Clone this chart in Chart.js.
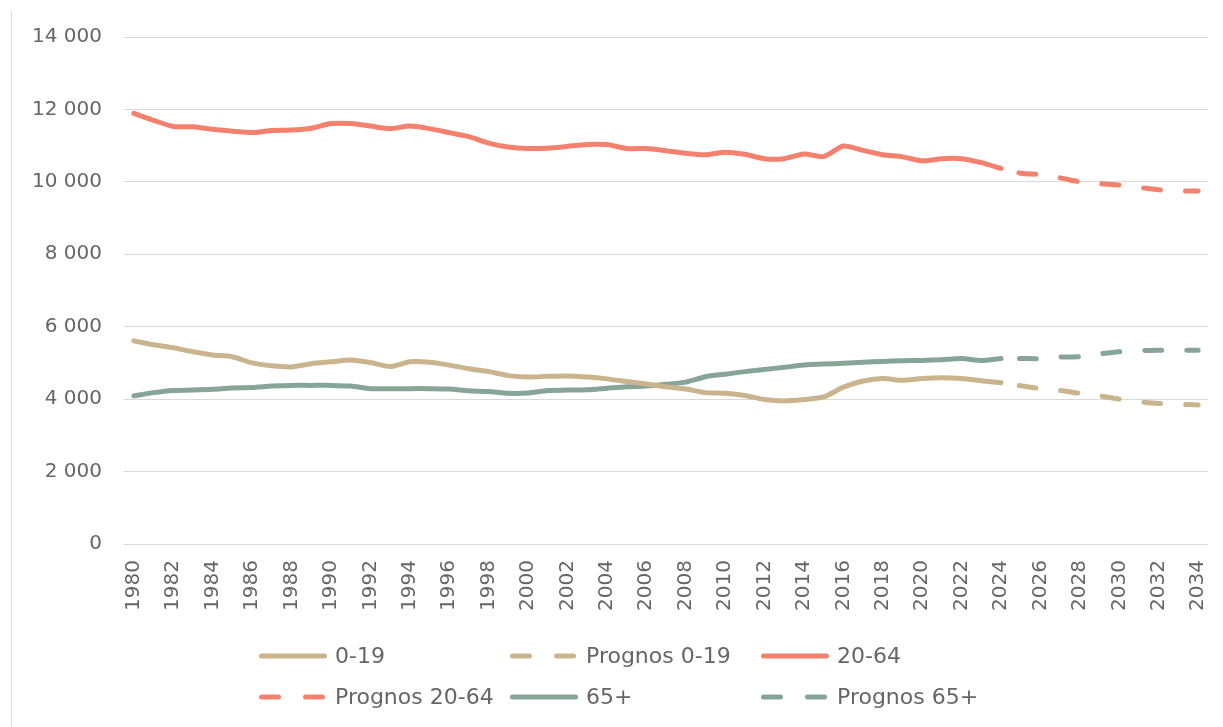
<!DOCTYPE html>
<html>
<head>
<meta charset="utf-8">
<script src="https://cdn.jsdelivr.net/npm/chart.js@4/dist/chart.umd.min.js"></script>
<style>
  html, body { margin: 0; padding: 0; background: #fff; }
  #wrap { width: 1223px; height: 727px; position: relative; }
</style>
</head>
<body>
<div id="wrap"><canvas id="chart"></canvas></div>
<script>
// years on the category axis
var years = [
  '1980','1981','1982','1983','1984','1985','1986','1987','1988','1989',
  '1990','1991','1992','1993','1994','1995','1996','1997','1998','1999',
  '2000','2001','2002','2003','2004','2005','2006','2007','2008','2009',
  '2010','2011','2012','2013','2014','2015','2016','2017','2018','2019',
  '2020','2021','2022','2023','2024','2025','2026','2027','2028','2029',
  '2030','2031','2032','2033','2034'
];

// outcome 1980-2024
var age0_19 = [
  5610,5500,5420,5310,5220,5170,5000,4920,4890,4980,
  5030,5080,5010,4900,5030,5020,4940,4840,4760,4650,
  4610,4630,4640,4610,4560,4490,4420,4340,4280,4180,
  4160,4100,3990,3950,3990,4060,4330,4500,4570,4520,
  4570,4590,4570,4510,4450
];
var age20_64 = [
  11890,11700,11530,11520,11450,11400,11360,11420,11430,11480,
  11610,11610,11540,11470,11540,11470,11360,11250,11070,10960,
  10920,10930,10980,11030,11030,10920,10920,10860,10790,10750,
  10820,10760,10640,10640,10770,10700,10990,10870,10750,10690,
  10580,10640,10640,10530,10370
];
var age65 = [
  4090,4180,4240,4250,4270,4310,4320,4360,4380,4380,
  4380,4360,4290,4290,4290,4290,4280,4230,4210,4160,
  4170,4240,4250,4260,4300,4340,4360,4410,4470,4620,
  4690,4760,4820,4880,4940,4970,4990,5020,5040,5060,
  5070,5090,5120,5070,5120
];

// forecast 2024-2034
var prog0_19  = [4450,4370,4290,4240,4160,4090,4000,3930,3880,3860,3840];
var prog20_64 = [10370,10240,10200,10110,10000,9950,9910,9850,9780,9750,9745];
var prog65    = [5120,5120,5120,5160,5170,5250,5310,5340,5350,5350,5350];

var yTicks = [0,2000,4000,6000,8000,10000,12000,14000];

var TAN = '#c9b48d', RED = '#f4816e', GREEN = '#87a597';
var FONT = 'DejaVu Sans';
var TEXT = '#666666';

function history(arr) {
  return arr.concat(new Array(years.length - arr.length).fill(null));
}
function forecast(arr) {
  return new Array(years.length - arr.length).fill(null).concat(arr);
}
function series(label, data, color, dashed) {
  return {
    label: label,
    data: data,
    borderColor: color,
    backgroundColor: color,
    borderWidth: 5,
    borderCapStyle: 'round',
    borderJoinStyle: 'round',
    borderDash: dashed ? [17, 25] : [],
    borderDashOffset: dashed ? 23.8 : 0,
    pointRadius: 0,
    pointHoverRadius: 0,
    tension: 0.25,
    fill: false,
    spanGaps: false
  };
}

function fmt(v) {
  return String(v).replace(/\B(?=(\d{3})+(?!\d))/g, ' ');
}

// excel style legend: 3 equal columns, 2 rows
var gridLegend = {
  id: 'gridLegend',
  beforeDraw: function(chart) {
    var ctx = chart.ctx;
    ctx.save();
    ctx.strokeStyle = '#d9d9d9';
    ctx.lineWidth = 1;
    ctx.beginPath();
    ctx.moveTo(11.5, 11);
    ctx.lineTo(11.5, chart.height);
    ctx.stroke();
    ctx.restore();
  },
  afterDraw: function(chart) {
    var ctx = chart.ctx;
    var area = chart.chartArea;
    var x0 = area.left + 135, colW = 251;
    var rowY = [area.bottom + 112, area.bottom + 153];
    ctx.save();
    ctx.font = '22px "' + FONT + '"';
    ctx.textBaseline = 'middle';
    ctx.fillStyle = TEXT;
    chart.data.datasets.forEach(function(ds, i) {
      var x = x0 + (i % 3) * colW;
      var y = rowY[Math.floor(i / 3)];
      ctx.strokeStyle = ds.borderColor;
      ctx.lineWidth = 5;
      ctx.lineCap = 'round';
      ctx.setLineDash(ds.borderDash.length ? [17, 27] : []);
      ctx.beginPath();
      ctx.moveTo(x + 2.5, y);
      ctx.lineTo(x + 65.5, y);
      ctx.stroke();
      ctx.setLineDash([]);
      ctx.fillText(ds.label, x + 76, y + 1);
    });
    ctx.restore();
  }
};

var ctx = document.getElementById('chart').getContext('2d');
new Chart(ctx, {
  type: 'line',
  data: {
    labels: years,
    datasets: [
      series('0-19', history(age0_19), TAN, false),
      series('Prognos 0-19', forecast(prog0_19), TAN, true),
      series('20-64', history(age20_64), RED, false),
      series('Prognos 20-64', forecast(prog20_64), RED, true),
      series('65+', history(age65), GREEN, false),
      series('Prognos 65+', forecast(prog65), GREEN, true)
    ]
  },
  options: {
    responsive: true,
    maintainAspectRatio: false,
    animation: false,
    layout: { padding: { left: 12, right: 15, top: 37, bottom: 103 } },
    plugins: {
      legend: { display: false },
      tooltip: { enabled: false }
    },
    scales: {
      x: {
        offset: true,
        grid: { display: false, drawTicks: false },
        border: { display: false },
        afterFit: function(scale) {
          scale.height = 80;
          scale.paddingLeft = 0;
          scale.paddingRight = 0;
        },
        ticks: {
          autoSkip: false,
          minRotation: 90,
          maxRotation: 90,
          padding: 16,
          color: TEXT,
          font: { family: FONT, size: 20 },
          callback: function(val, i) { return i % 2 === 0 ? years[i] : ''; }
        }
      },
      y: {
        min: 0,
        max: 14000,
        afterFit: function(scale) { scale.width = 112; },
        afterBuildTicks: function(scale) {
          scale.ticks = yTicks.map(function(v) { return { value: v }; });
        },
        grid: { color: '#d9d9d9', lineWidth: 1, drawTicks: false },
        border: { display: false },
        ticks: {
          padding: 22,
          color: TEXT,
          font: { family: FONT, size: 20 },
          callback: function(v) { return fmt(v); }
        }
      }
    }
  },
  plugins: [gridLegend]
});
</script>
</body>
</html>
